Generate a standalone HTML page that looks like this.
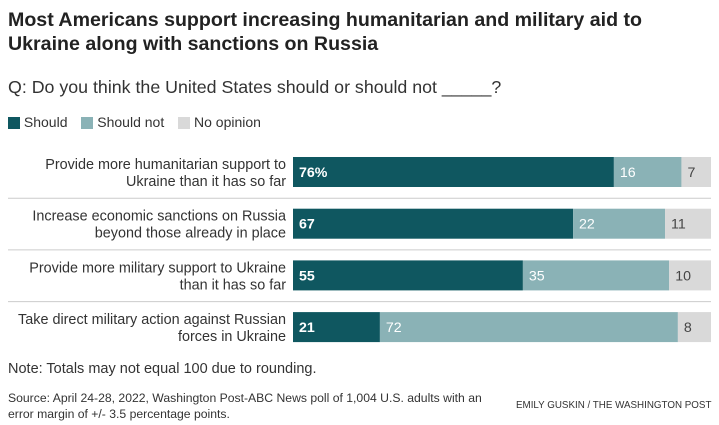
<!DOCTYPE html>
<html><head><meta charset="utf-8"><style>
body{margin:0;width:719px;height:425px;background:#fff;font-family:"Liberation Sans",sans-serif;color:#222;overflow:hidden;position:relative}
.t{position:absolute;white-space:nowrap}
</style></head><body>
<div class="t" style="left:8px;top:8px;font-size:19.6px;font-weight:bold;line-height:24px;color:#222">Most Americans support increasing humanitarian and military aid to<br>Ukraine along with sanctions on Russia</div>
<div class="t" style="left:8px;top:77px;font-size:17.8px;color:#333">Q: Do you think the United States should or should not _____?</div>
<div style="position:absolute;left:8px;top:114px;font-size:14px;color:#333">
<span><span style="display:inline-block;width:12px;height:12px;background:#0f5760;vertical-align:-2px"></span> Should</span>
<span style="margin-left:10px"><span style="display:inline-block;width:12px;height:12px;background:#8ab2b6;vertical-align:-2px"></span> Should not</span>
<span style="margin-left:10px"><span style="display:inline-block;width:12px;height:12px;background:#d9d9d9;vertical-align:-2px"></span> No opinion</span>
</div>
<svg id="chart" width="719" height="425" style="position:absolute;left:0;top:0"></svg>
<div class="t" style="left:8px;top:361px;font-size:14.5px;color:#333">Note: Totals may not equal 100 due to rounding.</div>
<div class="t" style="left:8px;top:390px;font-size:12.2px;line-height:16px;color:#333">Source: April 24-28, 2022, Washington Post-ABC News poll of 1,004 U.S. adults with an<br>error margin of +/- 3.5 percentage points.</div>
<div class="t" style="left:516px;top:400px;font-size:9.8px;color:#333">EMILY GUSKIN / THE WASHINGTON POST</div>
<script>
const categories=[["Provide more humanitarian support to","Ukraine than it has so far"],["Increase economic sanctions on Russia","beyond those already in place"],["Provide more military support to Ukraine","than it has so far"],["Take direct military action against Russian","forces in Ukraine"]];
const should=[76,67,55,21];
const shouldNot=[16,22,35,72];
const noOpinion=[7,11,10,8];
const svg=document.getElementById('chart');
const NS='http://www.w3.org/2000/svg';
const x0=293,x1=711,rowTop=157,rowStep=51.7,barH=30;
const colors=['#0f5760','#8ab2b6','#d9d9d9'];
const tcol=['#fff','#fff','#444'];
const names=['should','should-not','no-opinion'];
function mk(t,a){const e=document.createElementNS(NS,t);for(const k in a)e.setAttribute(k,a[k]);svg.appendChild(e);return e;}
categories.forEach((c,i)=>{
 const y=rowTop+i*rowStep;
 if(i>0){const l=mk('line',{x1:8,x2:711,y1:y-10.5,y2:y-10.5,stroke:'#ccc','stroke-width':1});}
 c.forEach((s,j)=>{const t=mk('text',{x:286,y:y+12+j*17,'text-anchor':'end','font-size':14.4,fill:'#333','font-family':'Liberation Sans'});t.textContent=s;});
 const vals=[should[i],shouldNot[i],noOpinion[i]];
 const tot=vals.reduce((a,b)=>a+b,0);
 const sc=v=>v/tot*(x1-x0);
 let x=x0;
 vals.forEach((v,k)=>{
  const w=sc(v);
  const r=mk('rect',{x:x,y:y,width:w,height:barH,fill:colors[k]});
  
  
  const t=mk('text',{x:x+6,y:y+20,'font-size':14.2,fill:tcol[k],'font-weight':k==0?'bold':'normal','font-family':'Liberation Sans'});
  t.textContent=v+(i==0&&k==0?'%':'');
  
  
  x+=w;
 });
});
</script>
</body></html>
